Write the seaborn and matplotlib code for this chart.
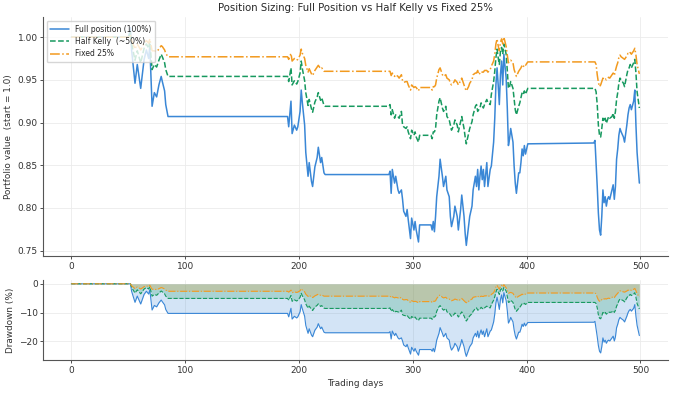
import numpy as np
import pandas as pd
import matplotlib
matplotlib.use("Agg")
import matplotlib.pyplot as plt
import seaborn as sns

# Portfolio values (start = 1.0)
days = [0, 50, 51, 52, 53, 54, 56, 58, 61, 63, 64, 66, 68, 69, 71, 73, 75, 77, 79, 80, 82, 83, 85,
        190, 191, 193, 194, 196, 198, 199, 201, 202, 203, 205, 206, 208, 209, 211, 212, 214, 216, 217,
        219, 220, 222, 223,
        279, 280, 281, 282, 284, 285, 287, 288, 290, 291, 292, 294, 295, 296, 298, 299, 301, 302, 303,
        305, 306, 316, 317, 318, 319, 320, 321, 323, 324, 326, 327, 329, 330, 332, 333, 334, 336, 337,
        339, 340, 342, 343, 345, 346, 347, 349, 350, 352, 353, 355, 356, 357, 358, 359, 360, 361, 362,
        363, 365, 366, 368, 369, 371, 372, 373, 374, 375, 376, 377, 378, 379, 380, 382, 383, 384, 385,
        386, 388, 389, 390, 391, 393, 394, 395, 396, 397, 398, 399, 401,
        459, 460, 461, 462, 463, 464, 465, 466, 467, 468, 469, 470, 471, 472, 473, 475, 476, 477, 478,
        479, 480, 481, 482, 483, 485, 486, 488, 489, 490, 491, 492, 494, 495, 496, 497, 499]

full_pos = [1.000, 1.000, 1.004, 1.011, 0.985, 0.972, 0.946, 0.968, 0.940, 0.962, 0.974, 0.985, 0.975,
            0.990, 0.919, 0.935, 0.930, 0.944, 0.954, 0.948, 0.937, 0.921, 0.907,
            0.907, 0.895, 0.925, 0.887, 0.897, 0.891, 0.895, 0.913, 0.938, 0.923, 0.897, 0.865, 0.837,
            0.853, 0.831, 0.825, 0.848, 0.859, 0.871, 0.853, 0.859, 0.841, 0.839,
            0.839, 0.843, 0.817, 0.845, 0.829, 0.837, 0.821, 0.817, 0.821, 0.810, 0.796, 0.790, 0.798,
            0.786, 0.764, 0.788, 0.774, 0.784, 0.774, 0.760, 0.780, 0.780, 0.774, 0.784, 0.772, 0.790,
            0.813, 0.837, 0.857, 0.837, 0.825, 0.837, 0.821, 0.813, 0.790, 0.778, 0.790, 0.802, 0.790,
            0.774, 0.798, 0.815, 0.790, 0.770, 0.756, 0.778, 0.790, 0.802, 0.821, 0.837, 0.825, 0.845,
            0.821, 0.837, 0.849, 0.833, 0.845, 0.825, 0.853, 0.825, 0.845, 0.849, 0.877, 0.905, 0.944,
            0.964, 0.944, 0.921, 0.956, 0.972, 0.944, 0.980, 0.952, 0.917, 0.873, 0.881, 0.893, 0.877,
            0.849, 0.829, 0.817, 0.841, 0.841, 0.853, 0.869, 0.861, 0.873, 0.863, 0.875,
            0.876, 0.879, 0.853, 0.825, 0.794, 0.774, 0.768, 0.790, 0.821, 0.806, 0.813, 0.802, 0.810,
            0.813, 0.810, 0.821, 0.827, 0.810, 0.825, 0.857, 0.869, 0.885, 0.893, 0.889, 0.883, 0.877,
            0.897, 0.909, 0.917, 0.921, 0.915, 0.925, 0.938, 0.897, 0.865, 0.829]

half_kelly = [1.000, 1.000, 1.002, 1.005, 0.993, 0.986, 0.973, 0.984, 0.970, 0.981, 0.987, 0.992, 0.987,
              0.995, 0.962, 0.968, 0.965, 0.973, 0.980, 0.977, 0.970, 0.962, 0.954,
              0.954, 0.948, 0.964, 0.944, 0.949, 0.945, 0.948, 0.958, 0.972, 0.963, 0.949, 0.935, 0.920,
              0.927, 0.916, 0.912, 0.924, 0.930, 0.935, 0.926, 0.929, 0.920, 0.919,
              0.919, 0.921, 0.909, 0.915, 0.905, 0.909, 0.907, 0.905, 0.913, 0.897, 0.895, 0.893, 0.895,
              0.889, 0.881, 0.891, 0.885, 0.889, 0.883, 0.877, 0.885, 0.885, 0.881, 0.889, 0.889, 0.893,
              0.909, 0.925, 0.929, 0.917, 0.913, 0.919, 0.907, 0.903, 0.897, 0.891, 0.897, 0.903, 0.897,
              0.889, 0.901, 0.907, 0.893, 0.883, 0.875, 0.887, 0.893, 0.901, 0.909, 0.919, 0.921, 0.913,
              0.915, 0.917, 0.923, 0.919, 0.917, 0.921, 0.927, 0.923, 0.921, 0.933, 0.948, 0.960, 0.976,
              0.986, 0.976, 0.968, 0.984, 0.988, 0.980, 0.992, 0.980, 0.961, 0.940, 0.942, 0.948, 0.940,
              0.927, 0.915, 0.909, 0.919, 0.923, 0.929, 0.935, 0.933, 0.937, 0.933, 0.940,
              0.940, 0.940, 0.936, 0.921, 0.897, 0.885, 0.883, 0.893, 0.905, 0.901, 0.905, 0.899, 0.903,
              0.907, 0.905, 0.907, 0.911, 0.905, 0.913, 0.927, 0.935, 0.946, 0.952, 0.950, 0.946, 0.942,
              0.956, 0.962, 0.964, 0.968, 0.964, 0.970, 0.974, 0.958, 0.936, 0.917]

fixed_25 = [1.000, 1.000, 1.001, 1.003, 0.996, 0.993, 0.986, 0.992, 0.985, 0.990, 0.993, 0.996, 0.993,
            0.998, 0.984, 0.984, 0.983, 0.986, 0.990, 0.989, 0.985, 0.981, 0.977,
            0.977, 0.974, 0.981, 0.972, 0.975, 0.973, 0.974, 0.979, 0.986, 0.981, 0.975, 0.967, 0.959,
            0.963, 0.957, 0.955, 0.961, 0.965, 0.967, 0.963, 0.964, 0.960, 0.960,
            0.960, 0.960, 0.955, 0.958, 0.954, 0.956, 0.954, 0.952, 0.956, 0.949, 0.947, 0.948, 0.948,
            0.944, 0.938, 0.944, 0.941, 0.942, 0.941, 0.937, 0.941, 0.941, 0.938, 0.942, 0.942, 0.944,
            0.952, 0.962, 0.964, 0.956, 0.954, 0.956, 0.952, 0.950, 0.946, 0.944, 0.947, 0.950, 0.947,
            0.944, 0.949, 0.952, 0.944, 0.940, 0.937, 0.942, 0.946, 0.950, 0.956, 0.958, 0.958, 0.961,
            0.956, 0.958, 0.960, 0.959, 0.959, 0.961, 0.961, 0.959, 0.962, 0.966, 0.972, 0.980, 0.992,
            0.998, 0.990, 0.984, 0.994, 0.998, 0.992, 1.000, 0.989, 0.979, 0.970, 0.972, 0.973, 0.970,
            0.962, 0.958, 0.954, 0.960, 0.962, 0.964, 0.967, 0.965, 0.968, 0.967, 0.971,
            0.971, 0.971, 0.968, 0.956, 0.947, 0.942, 0.944, 0.948, 0.952, 0.950, 0.951, 0.950, 0.952,
            0.953, 0.952, 0.956, 0.958, 0.955, 0.961, 0.966, 0.970, 0.976, 0.979, 0.977, 0.975, 0.974,
            0.978, 0.981, 0.980, 0.982, 0.980, 0.984, 0.987, 0.979, 0.968, 0.957]

labels = ["Full position (100%)", "Half Kelly  (~50%)", "Fixed 25%"]
colors = ["#3a87d6", "#17995f", "#f29a1f"]
styles = ["-", "--", "-."]

df = pd.DataFrame({"day": days, labels[0]: full_pos, labels[1]: half_kelly, labels[2]: fixed_25})

sns.set_theme(style="whitegrid")
plt.rcParams.update({
    "font.size": 6.5,
    "axes.edgecolor": "#555555",
    "axes.linewidth": 0.8,
    "grid.color": "#ebebeb",
    "grid.linewidth": 0.6,
    "xtick.bottom": True,
    "ytick.left": True,
    "xtick.major.size": 2.2,
    "ytick.major.size": 2.2,
    "xtick.major.pad": 2.0,
    "ytick.major.pad": 1.5,
    "xtick.major.width": 0.6,
    "ytick.major.width": 0.6,
    "xtick.labelsize": 6.5,
    "ytick.labelsize": 6.5,
    "xtick.color": "#333333",
    "ytick.color": "#333333",
    "axes.labelcolor": "#333333",
})

fig, (ax1, ax2) = plt.subplots(2, 1, figsize=(6.8, 3.93), dpi=100,
                               gridspec_kw={"height_ratios": [3, 1]})
fig.subplots_adjust(left=0.063, right=0.982, top=0.957, bottom=0.084, hspace=0.15)

# Top: portfolio value
for lab, c, ls in zip(labels, colors, styles):
    sns.lineplot(data=df, x="day", y=lab, ax=ax1, color=c, linestyle=ls, linewidth=1.1, label=lab)

ax1.set_title("Position Sizing: Full Position vs Half Kelly vs Fixed 25%", fontsize=7.3, pad=4)
ax1.set_xlabel("")
ax1.set_ylabel("Portfolio value  (start = 1.0)", fontsize=6.4, labelpad=3)
ax1.legend(loc="upper left", fontsize=5.5, frameon=True, framealpha=0.8, edgecolor="#cccccc",
           borderpad=0.5, handlelength=2.4, labelspacing=0.45)

# Bottom: drawdown from running peak
for lab, c, ls in zip(labels, colors, styles):
    v = df[lab]
    dd = (v / v.cummax() - 1) * 100
    ax2.fill_between(df["day"], dd, 0, color=c, alpha=0.22, linewidth=0)
    sns.lineplot(x=df["day"], y=dd, ax=ax2, color=c, linestyle=ls, linewidth=0.8)

ax2.set_xlabel("Trading days", fontsize=6.4, labelpad=3)
ax2.set_ylabel("Drawdown (%)", fontsize=6.4, labelpad=3)
ax2.set_xlim(ax1.get_xlim())

sns.despine(fig=fig)

plt.savefig("out.png", dpi=100)
